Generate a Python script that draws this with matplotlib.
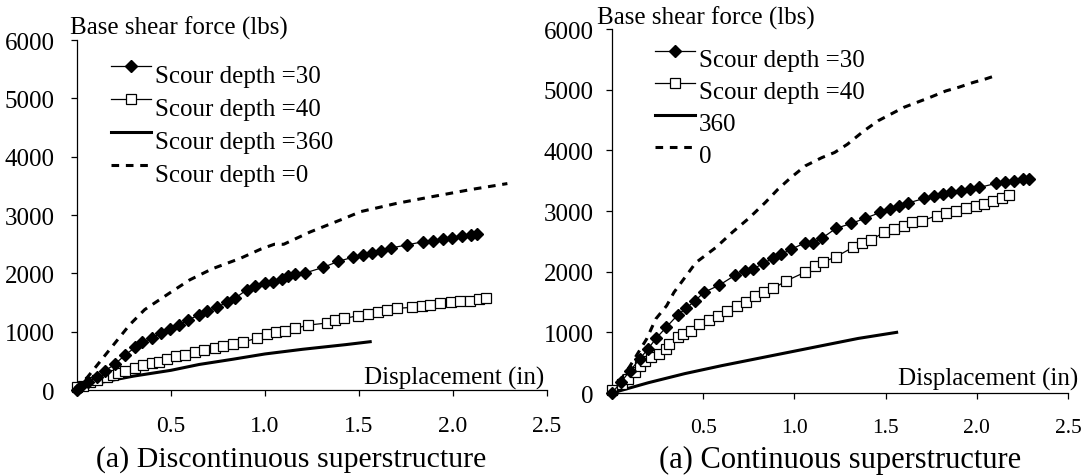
import matplotlib
matplotlib.use("Agg")
import matplotlib.pyplot as plt
from matplotlib.lines import Line2D

plt.rcParams['font.family'] = ['Liberation Serif', 'DejaVu Serif']

# ---- (a) Discontinuous superstructure ----
disc_x30 = [0, 0.016, 0.06, 0.105, 0.149, 0.202, 0.255, 0.309, 0.344, 0.397, 0.445, 0.495,
            0.543, 0.592, 0.649, 0.693, 0.743, 0.796, 0.84, 0.903, 0.947, 1.0, 1.044, 1.089,
            1.124, 1.16, 1.213, 1.31, 1.39, 1.466, 1.52, 1.567, 1.62, 1.669, 1.754, 1.842,
            1.892, 1.945, 1.993, 2.046, 2.094, 2.129]
disc_y30 = [0, 46, 132, 218, 331, 446, 600, 732, 818, 886, 978, 1046,
            1115, 1206, 1286, 1360, 1418, 1504, 1572, 1720, 1778, 1835, 1858, 1904,
            1961, 1985, 2007, 2104, 2207, 2276, 2316, 2344, 2390, 2436, 2487, 2544,
            2556, 2585, 2602, 2636, 2659, 2676]

disc_x40 = [0, 0.034, 0.069, 0.105, 0.158, 0.193, 0.22, 0.255, 0.309, 0.353, 0.397, 0.438,
            0.477, 0.527, 0.574, 0.628, 0.676, 0.734, 0.778, 0.831, 0.885, 0.956, 1.009,
            1.059, 1.106, 1.16, 1.23, 1.328, 1.372, 1.42, 1.496, 1.55, 1.603, 1.647, 1.7,
            1.78, 1.834, 1.878, 1.934, 1.989, 2.037, 2.09, 2.138, 2.176]
disc_y40 = [50, 74, 132, 177, 228, 262, 292, 326, 372, 429, 463, 486,
            532, 578, 600, 646, 692, 726, 760, 795, 829, 886, 960,
            990, 1018, 1058, 1115, 1149, 1206, 1229, 1275, 1298, 1332, 1378, 1401,
            1418, 1441, 1458, 1492, 1515, 1527, 1532, 1561, 1578]

disc_x360 = [0, 0.12, 0.3, 0.5, 0.65, 0.83, 1.0, 1.2, 1.43, 1.56]
disc_y360 = [30, 130, 240, 340, 440, 530, 620, 700, 780, 830]

disc_x0 = [0, 0.05, 0.1, 0.18, 0.28, 0.36, 0.5, 0.6, 0.72, 0.87, 0.98, 1.05, 1.1, 1.24,
           1.42, 1.51, 1.7, 1.88, 2.1, 2.29]
disc_y0 = [0, 200, 400, 720, 1120, 1380, 1680, 1890, 2080, 2260, 2420, 2500, 2500, 2710,
           2940, 3060, 3200, 3310, 3440, 3540]

# ---- (a) Continuous superstructure ----
cont_x30 = [0, 0.05, 0.1, 0.152, 0.197, 0.242, 0.297, 0.36, 0.405, 0.456, 0.504, 0.589,
            0.676, 0.73, 0.775, 0.83, 0.884, 0.929, 0.983, 1.06, 1.1, 1.15, 1.227, 1.312,
            1.385, 1.471, 1.522, 1.571, 1.62, 1.71, 1.764, 1.815, 1.86, 1.914, 1.963,
            2.014, 2.104, 2.155, 2.203, 2.252, 2.288]
cont_y30 = [0, 180, 370, 560, 725, 901, 1082, 1285, 1395, 1521, 1659, 1779,
            1944, 2015, 2043, 2142, 2219, 2290, 2370, 2480, 2480, 2550, 2713, 2796,
            2878, 2977, 3031, 3076, 3130, 3207, 3250, 3278, 3306, 3333, 3361,
            3389, 3455, 3471, 3498, 3526, 3526]

cont_x40 = [0, 0.053, 0.089, 0.125, 0.152, 0.179, 0.215, 0.26, 0.297, 0.315, 0.36, 0.387,
            0.432, 0.477, 0.531, 0.582, 0.631, 0.685, 0.734, 0.785, 0.835, 0.884, 0.956,
            1.056, 1.11, 1.155, 1.23, 1.32, 1.37, 1.42, 1.49, 1.544, 1.598, 1.643, 1.697,
            1.779, 1.833, 1.887, 1.941, 1.996, 2.041, 2.09, 2.137, 2.176]
cont_y40 = [50, 148, 231, 341, 450, 533, 588, 643, 725, 807, 917, 972,
            1027, 1137, 1208, 1274, 1357, 1439, 1494, 1593, 1659, 1724, 1850,
            1988, 2087, 2153, 2250, 2400, 2470, 2520, 2650, 2700, 2756, 2812, 2839,
            2921, 2965, 3003, 3043, 3086, 3114, 3168, 3208, 3262]

cont_x360 = [0, 0.2, 0.4, 0.6, 0.8, 1.0, 1.2, 1.35, 1.56]
cont_y360 = [0, 170, 320, 450, 570, 690, 810, 900, 1000]

cont_x0 = [0, 0.1, 0.19, 0.24, 0.3, 0.34, 0.46, 0.57, 0.66, 0.75, 0.84, 0.91, 0.98, 1.06,
           1.15, 1.22, 1.29, 1.38, 1.46, 1.53, 1.6, 1.67, 1.74, 1.83, 1.9, 1.98, 2.05, 2.11]
cont_y0 = [0, 450, 890, 1220, 1440, 1660, 2150, 2400, 2650, 2880, 3140, 3360, 3550, 3745,
           3880, 3965, 4100, 4320, 4490, 4600, 4710, 4790, 4870, 4980, 5040, 5120, 5180, 5240]

x_ticks = [0.5, 1.0, 1.5, 2.0, 2.5]
y_ticks = [0, 1000, 2000, 3000, 4000, 5000, 6000]

labels_disc = ['Scour depth =30', 'Scour depth =40', 'Scour depth =360', 'Scour depth =0']
labels_cont = ['Scour depth =30', 'Scour depth =40', '360', '0']

FS = 18

fig = plt.figure(figsize=(10.85, 4.77), dpi=100)
ax1 = fig.add_axes([0.071, 0.180, 0.433, 0.734])
ax2 = fig.add_axes([0.564, 0.174, 0.4205, 0.763])


def dibujar(ax, x30, y30, x40, y40, x360, y360, x0, y0, etiquetas, ypad, xfs, leg_pos, lsp):
    ax.plot(x30, y30, color='black', lw=0.9, marker='D', ms=6,
            mfc='black', mec='black', clip_on=False, zorder=4)
    ax.plot(x40, y40, color='black', lw=0.9, marker='s', ms=6.5,
            mfc='white', mec='black', mew=0.9, clip_on=False, zorder=3)
    ax.plot(x360, y360, color='black', lw=2.2, zorder=2)
    ax.plot(x0, y0, color='black', lw=2.2, ls=(0, (2.5, 2.2)), zorder=2)

    ax.set_xlim(0, 2.5)
    ax.set_ylim(0, 6000)
    ax.set_xticks(x_ticks)
    ax.set_xticklabels(['%.1f' % v for v in x_ticks])
    ax.set_yticks(y_ticks)
    ax.set_yticklabels([str(v) for v in y_ticks])
    for s in ['top', 'right']:
        ax.spines[s].set_visible(False)
    ax.spines['left'].set_linewidth(0.9)
    ax.spines['bottom'].set_linewidth(0.9)
    ax.tick_params(axis='x', direction='out', length=4, width=0.9, pad=14, labelsize=xfs)
    ax.tick_params(axis='y', direction='out', length=4, width=0.9, pad=ypad, labelsize=FS)

    handles = [
        Line2D([0], [0], color='black', lw=0.9, marker='D', ms=6, mfc='black'),
        Line2D([0], [0], color='black', lw=0.9, marker='s', ms=6.5, mfc='white', mew=0.9),
        Line2D([0], [0], color='black', lw=2.2),
        Line2D([0], [0], color='black', lw=2.2, ls=(0, (2.5, 2.2))),
    ]
    leg = ax.legend(handles, etiquetas, loc='upper left', bbox_to_anchor=leg_pos,
                    frameon=False, fontsize=FS, handlelength=1.6, handletextpad=0.15,
                    labelspacing=lsp, borderpad=0, borderaxespad=0, numpoints=1)
    for t in leg.get_texts():
        t.set_y(-7)


dibujar(ax1, disc_x30, disc_y30, disc_x40, disc_y40, disc_x360, disc_y360,
        disc_x0, disc_y0, labels_disc, 12, 17, (0.072, 0.95), 0.42)
dibujar(ax2, cont_x30, cont_y30, cont_x40, cont_y40, cont_x360, cont_y360,
        cont_x0, cont_y0, labels_cont, 9, 15.5, (0.095, 0.965), 0.38)

ax1.text(-0.015, 1.037, 'Base shear force (lbs)', transform=ax1.transAxes,
         ha='left', va='center', fontsize=FS)
ax2.text(-0.033, 1.033, 'Base shear force (lbs)', transform=ax2.transAxes,
         ha='left', va='center', fontsize=FS)
ax1.text(0.995, 0.035, 'Displacement (in)', transform=ax1.transAxes,
         ha='right', va='center', fontsize=FS)
ax2.text(1.022, 0.04, 'Displacement (in)', transform=ax2.transAxes,
         ha='right', va='center', fontsize=FS)

fig.text(291 / 1085, 1 - 460 / 477, '(a) Discontinuous superstructure',
         ha='center', va='center', fontsize=21.5)
fig.text(840 / 1085, 1 - 460 / 477, '(a) Continuous superstructure',
         ha='center', va='center', fontsize=22)

fig.savefig('out.png', dpi=100)
